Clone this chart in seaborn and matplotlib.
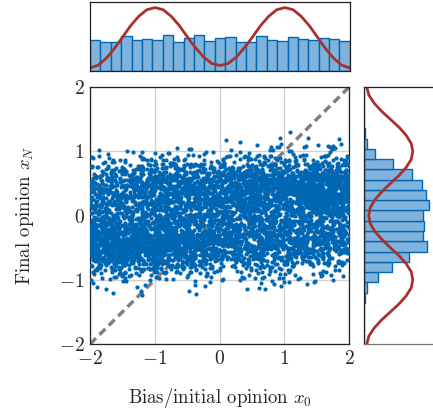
import matplotlib
matplotlib.use("Agg")
import matplotlib.pyplot as plt
import numpy as np
import pandas as pd
import seaborn as sns

# Marginal histograms: 25 bins on [-2, 2], heights
# (fraction of the marginal panel size)
n_bins = 25
bin_edges = np.linspace(-2, 2, n_bins + 1)
bin_centers = (bin_edges[:-1] + bin_edges[1:]) / 2

bias_hist = [0.448, 0.429, 0.419, 0.505, 0.448, 0.471, 0.448, 0.524, 0.419,
             0.486, 0.519, 0.433, 0.481, 0.500, 0.419, 0.419, 0.505, 0.448,
             0.443, 0.490, 0.462, 0.452, 0.476, 0.467, 0.433]

# from y = -2 (bottom) upwards
final_hist = [0.0, 0.0, 0.0, 0.0, 0.01, 0.04, 0.19, 0.395, 0.63, 0.88, 0.82,
              0.835, 0.82, 0.91, 0.86, 0.81, 0.675, 0.41, 0.145, 0.04, 0.015,
              0.0, 0.0, 0.0, 0.0]

# Red density curve (same shape in both marginals), sampled every 0.125
curve_x = np.linspace(-2, 2, 33)
curve_y = [0.05, 0.09, 0.19, 0.33, 0.495, 0.66, 0.795, 0.89, 0.92, 0.89,
           0.795, 0.66, 0.495, 0.34, 0.205, 0.115, 0.085, 0.115, 0.205, 0.34,
           0.495, 0.66, 0.795, 0.89, 0.92, 0.89, 0.795, 0.66, 0.495, 0.33,
           0.19, 0.09, 0.05]
right_scale = 0.74

# Scatter cloud: too dense to read point by point, so it is described by
# what the picture shows: x0 uniform on [-2, 2], xN drawn from two clusters
# (centres/spread), the upper cluster getting
# more likely as x0 grows.
n_points = 5500
cluster_centres = [-0.38, 0.4]
cluster_spread = 0.27
upper_share_x = [-2, 2]
upper_share = [0.28, 0.72]

axis_limits = [-2, 2]
ticks = [-2, -1, 0, 1, 2]

rng = np.random.default_rng(7)
bias = rng.uniform(axis_limits[0], axis_limits[1], n_points)
is_upper = rng.random(n_points) < np.interp(bias, upper_share_x, upper_share)
final = (np.where(is_upper, cluster_centres[1], cluster_centres[0])
         + cluster_spread * rng.standard_normal(n_points))
df = pd.DataFrame({"bias": bias, "final": final})

hist_top = pd.DataFrame({"centre": bin_centers, "height": bias_hist})
hist_right = pd.DataFrame({"centre": bin_centers, "height": final_hist})
curves = pd.DataFrame({"x": curve_x, "top": curve_y,
                       "right": np.array(curve_y) * right_scale})

sns.set_style("white")
plt.rcParams["font.family"] = "serif"
plt.rcParams["font.serif"] = ["cmr10"]
plt.rcParams["mathtext.fontset"] = "cm"
plt.rcParams["axes.formatter.use_mathtext"] = True
plt.rcParams["axes.unicode_minus"] = True

blue = "#0067b4"
bar_fill = "#7fb3dc"
red = "#a8312e"

fig = plt.figure(figsize=(4.33, 4.13), dpi=100)
ax = fig.add_axes([0.208, 0.167, 0.598, 0.622])
ax_top = fig.add_axes([0.208, 0.827, 0.600, 0.168])
ax_right = fig.add_axes([0.841, 0.167, 0.165, 0.622])

# Main scatter
ax.grid(True, color="#d0d0d0", linewidth=1.0)
ax.set_axisbelow(True)
ax.plot(axis_limits, axis_limits, color="#808080", linewidth=2.5,
        dashes=(2.4, 1.4), zorder=2)
sns.scatterplot(data=df, x="bias", y="final", s=9, color=blue, linewidth=0,
                ax=ax, zorder=3)
ax.set_xlim(axis_limits)
ax.set_ylim(axis_limits)
ax.set_xticks(ticks)
ax.set_yticks(ticks)
ax.tick_params(direction="in", length=3.5, color="#555555", labelsize=14,
               pad=4)
ax.set_xlabel("Bias/initial opinion $x_0$", fontsize=13.5, labelpad=13)
ax.set_ylabel("Final opinion $x_N$", fontsize=13.5, labelpad=16)
for s in ax.spines.values():
    s.set_color("#222222")
    s.set_linewidth(0.9)

# Top marginal
sns.histplot(data=hist_top, x="centre", weights="height", bins=n_bins,
             binrange=tuple(axis_limits), ax=ax_top, color=bar_fill,
             edgecolor=blue, linewidth=1.0, alpha=1)
sns.lineplot(data=curves, x="x", y="top", color=red, linewidth=2.0,
             ax=ax_top, estimator=None, sort=False)
ax_top.set_xlim(axis_limits)
ax_top.set_ylim(0, 1)
ax_top.set_xticks([])
ax_top.set_yticks([])
ax_top.set_xlabel("")
ax_top.set_ylabel("")
for s in ax_top.spines.values():
    s.set_color("#222222")
    s.set_linewidth(0.9)

# Right marginal
sns.histplot(data=hist_right, y="centre", weights="height", bins=n_bins,
             binrange=tuple(axis_limits), ax=ax_right, color=bar_fill,
             edgecolor=blue, linewidth=1.0, alpha=1)
sns.lineplot(data=curves, x="right", y="x", color=red, linewidth=2.0,
             ax=ax_right, estimator=None, sort=False)
ax_right.set_ylim(axis_limits)
ax_right.set_xlim(0, 1)
ax_right.set_xticks([])
ax_right.set_yticks([])
ax_right.set_xlabel("")
ax_right.set_ylabel("")
ax_right.spines["right"].set_visible(False)
for s in ax_right.spines.values():
    s.set_color("#222222")
    s.set_linewidth(0.9)
ax_right.spines["bottom"].set_color("#777777")

fig.savefig("out.png", dpi=100)
